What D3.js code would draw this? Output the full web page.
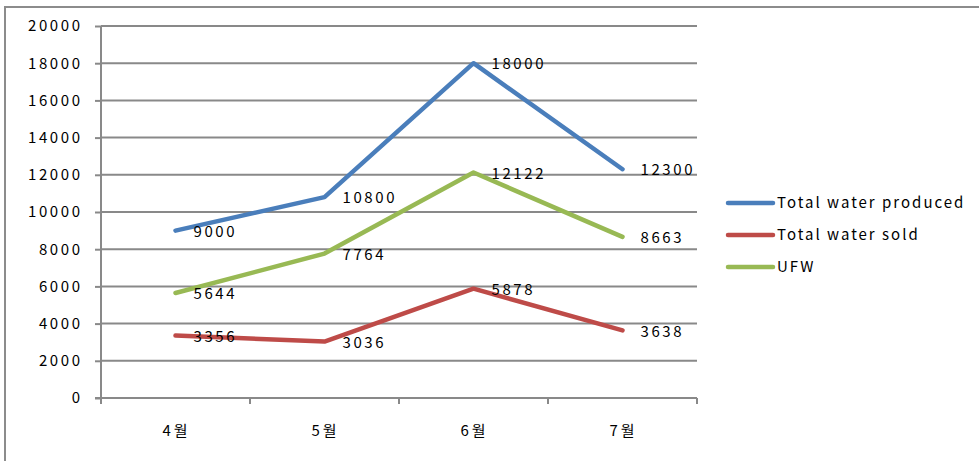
<!DOCTYPE html>
<html>
<head>
<meta charset="utf-8">
<script src="https://cdn.jsdelivr.net/npm/d3@7"></script>
<style>
  html, body { margin: 0; padding: 0; background: #fff; }
  svg text { font-family: "Noto Sans CJK KR", "Noto Sans", sans-serif; fill: #000; }
</style>
</head>
<body>
<svg id="chart" width="979" height="461"></svg>
<script>
// Monthly water figures
const categories = ["4월", "5월", "6월", "7월"];
const produced = [9000, 10800, 18000, 12300];
const sold = [3356, 3036, 5878, 3638];
const ufw = [5644, 7764, 12122, 8663];
const yTicks = [0, 2000, 4000, 6000, 8000, 10000, 12000, 14000, 16000, 18000, 20000];

const seriesList = [
  { name: "Total water produced", values: produced, color: "#4A7EBB" },
  { name: "Total water sold", values: sold, color: "#BE4B48" },
  { name: "UFW", values: ufw, color: "#98B954" }
];

const svg = d3.select("#chart");
const grid = "#898989";
const plot = { left: 101, right: 697, top: 26, bottom: 398 };
const fontSize = 15;
const spacing = 2.6;

// outer frame (top and left edges visible)
svg.append("path")
  .attr("d", `M5,461 V7 H979`)
  .attr("fill", "none")
  .attr("stroke", "#8c8c8c")
  .attr("stroke-width", 2);

const x = d3.scaleBand().domain(categories).range([plot.left, plot.right]);
const y = d3.scaleLinear().domain([0, 20000]).range([plot.bottom, plot.top]);
const cx = c => x(c) + x.bandwidth() / 2;

// horizontal gridlines
svg.append("g").selectAll("line")
  .data(yTicks.filter(t => t > 0))
  .join("line")
  .attr("x1", plot.left).attr("x2", plot.right)
  .attr("y1", d => y(d)).attr("y2", d => y(d))
  .attr("stroke", grid).attr("stroke-width", 2);

// y axis
const yAxis = svg.append("g")
  .attr("transform", `translate(${plot.left},0)`)
  .call(d3.axisLeft(y).tickValues(yTicks).tickSize(6).tickPadding(15).tickFormat(d3.format("d")));
yAxis.select(".domain").attr("stroke", grid).attr("stroke-width", 2).attr("d", `M0,${plot.top}V${plot.bottom + 6}`);
yAxis.selectAll(".tick line").attr("stroke", grid).attr("stroke-width", 2);
yAxis.selectAll(".tick text")
  .attr("font-size", fontSize)
  .style("letter-spacing", spacing + "px")
  .attr("dx", spacing);

// x axis with tick marks at the category boundaries
const xAxisG = svg.append("g").attr("transform", `translate(0,${plot.bottom})`);
xAxisG.append("line")
  .attr("x1", plot.left - 6).attr("x2", plot.right)
  .attr("stroke", grid).attr("stroke-width", 2);
const bounds = categories.map(c => x(c)).concat([plot.right]);
xAxisG.selectAll("line.b")
  .data(bounds)
  .join("line")
  .attr("class", "b")
  .attr("x1", d => d).attr("x2", d => d)
  .attr("y1", 0).attr("y2", 6)
  .attr("stroke", grid).attr("stroke-width", 2);
xAxisG.selectAll("text")
  .data(categories)
  .join("text")
  .attr("x", d => cx(d) + 1)
  .attr("y", 33)
  .attr("dy", "0.35em")
  .attr("text-anchor", "middle")
  .attr("font-size", fontSize)
  .style("letter-spacing", "3px")
  .text(d => d);

// series lines
const line = d3.line().x((d, i) => cx(categories[i])).y(d => y(d));
seriesList.forEach(s => {
  svg.append("path")
    .datum(s.values)
    .attr("d", line)
    .attr("fill", "none")
    .attr("stroke", s.color)
    .attr("stroke-width", 4.5)
    .attr("stroke-linejoin", "round")
    .attr("stroke-linecap", "round");
});

// value labels to the right of each point
seriesList.forEach(s => {
  svg.append("g").selectAll("text")
    .data(s.values)
    .join("text")
    .attr("x", (d, i) => cx(categories[i]) + 18)
    .attr("y", d => y(d) + 1)
    .attr("dy", "0.35em")
    .attr("font-size", fontSize)
    .style("letter-spacing", spacing + "px")
    .text(d => d);
});

// legend
const legend = svg.append("g").attr("transform", "translate(728,203)");
seriesList.forEach((s, i) => {
  const g = legend.append("g").attr("transform", `translate(0,${i * 32})`);
  g.append("line")
    .attr("x1", 0).attr("x2", 45)
    .attr("stroke", s.color).attr("stroke-width", 4.5)
    .attr("stroke-linecap", "round");
  g.append("text")
    .attr("x", 49)
    .attr("dy", "0.35em")
    .attr("font-size", fontSize)
    .style("letter-spacing", "2px")
    .text(s.name);
});
</script>
</body>
</html>
